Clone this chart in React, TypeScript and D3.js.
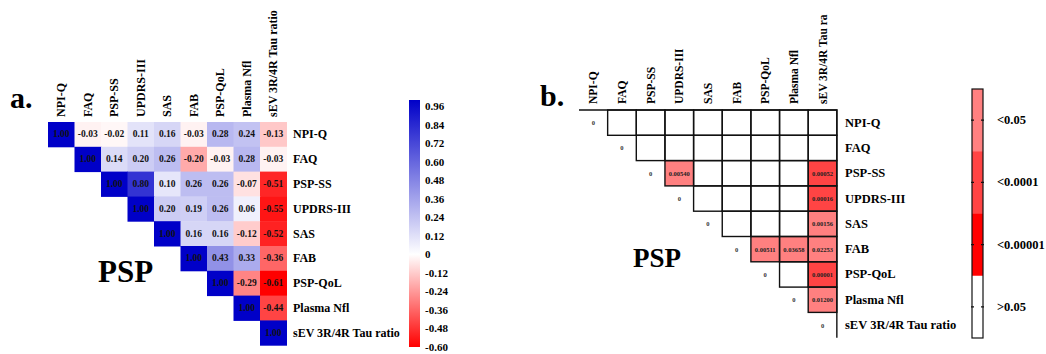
import React, { useEffect, useRef } from 'react'
import * as d3 from 'd3'

// variables (rows / columns of both matrices)
const variables = ['NPI-Q', 'FAQ', 'PSP-SS', 'UPDRS-III', 'SAS', 'FAB', 'PSP-QoL', 'Plasma Nfl', 'sEV 3R/4R Tau ratio']
const colLabelsB = ['NPI-Q', 'FAQ', 'PSP-SS', 'UPDRS-III', 'SAS', 'FAB', 'PSP-QoL', 'Plasma Nfl', 'sEV 3R/4R Tau ra']

// correlation coefficients, upper triangle, each row starts at the diagonal
const corrRows = [
    [1.00, -0.03, -0.02, 0.11, 0.16, -0.03, 0.28, 0.24, -0.13],
    [1.00, 0.14, 0.20, 0.26, -0.20, -0.03, 0.28, -0.03],
    [1.00, 0.80, 0.10, 0.26, 0.26, -0.07, -0.51],
    [1.00, 0.20, 0.19, 0.26, 0.06, -0.55],
    [1.00, 0.16, 0.16, -0.12, -0.52],
    [1.00, 0.43, 0.33, -0.36],
    [1.00, -0.29, -0.61],
    [1.00, -0.44],
    [1.00]
]
const colorTicks = [-0.60, -0.48, -0.36, -0.24, -0.12, 0, 0.12, 0.24, 0.36, 0.48, 0.60, 0.72, 0.84, 0.96]

// significant p values
const pRows = ['PSP-SS', 'PSP-SS', 'UPDRS-III', 'SAS', 'FAB', 'FAB', 'FAB', 'PSP-QoL', 'Plasma Nfl']
const pCols = ['UPDRS-III', 'sEV 3R/4R Tau ratio', 'sEV 3R/4R Tau ratio', 'sEV 3R/4R Tau ratio', 'PSP-QoL', 'Plasma Nfl', 'sEV 3R/4R Tau ratio', 'sEV 3R/4R Tau ratio', 'sEV 3R/4R Tau ratio']
const pValues = ['0.00540', '0.00052', '0.00016', '0.00156', '0.00511', '0.03658', '0.02253', '0.00001', '0.01200']
const pLevels = ['<0.05', '<0.0001', '<0.0001', '<0.05', '<0.05', '<0.05', '<0.05', '<0.0001', '<0.05']
const legendLabels = ['<0.05', '<0.0001', '<0.00001', '>0.05']
const legendColors = ['#ff8080', '#ff4444', '#ff0000', '#ffffff']

const FONT = '"Liberation Serif", "Times New Roman", serif'

const App = () => {
    const ref = useRef<SVGSVGElement>(null)

    useEffect(() => {
        drawChart()
    }, [])

    const drawChart = () => {
        const svg = d3.select(ref.current)
        svg.selectAll('*').remove()
        const n = variables.length

        // ---------- panel a ----------
        const ax = d3.scaleBand().domain(variables).range([48, 48 + 26.5 * n])
        const ay = d3.scaleBand().domain(variables).range([122, 122 + 24.8 * n])
        const color = d3.scaleLinear<string>().domain([-0.6, 0, 1]).range(['#ff0000', '#ffffff', '#0000c8'])

        const cellsA: { r: string; c: string; v: number }[] = []
        corrRows.forEach((row, i) => row.forEach((v, k) => cellsA.push({ r: variables[i], c: variables[i + k], v })))

        const ga = svg.append('g')
        ga.selectAll('rect').data(cellsA).enter().append('rect')
            .attr('x', d => ax(d.c)!)
            .attr('y', d => ay(d.r)!)
            .attr('width', ax.bandwidth() + 0.5)
            .attr('height', ay.bandwidth() + 0.5)
            .attr('fill', d => color(d.v))
        ga.selectAll('text.v').data(cellsA).enter().append('text')
            .attr('class', 'v')
            .attr('x', d => ax(d.c)! + ax.bandwidth() / 2)
            .attr('y', d => ay(d.r)! + ay.bandwidth() / 2)
            .attr('text-anchor', 'middle')
            .attr('dominant-baseline', 'central')
            .attr('font-size', 9.5)
            .attr('font-weight', 'bold')
            .attr('fill', '#111')
            .text(d => d.v.toFixed(2))

        ga.selectAll('text.col').data(variables).enter().append('text')
            .attr('class', 'col')
            .attr('transform', d => `translate(${ax(d)! + ax.bandwidth() / 2 + 4},117) rotate(-90)`)
            .attr('font-size', 12)
            .attr('font-weight', 'bold')
            .text(d => d)
        ga.selectAll('text.row').data(variables).enter().append('text')
            .attr('class', 'row')
            .attr('x', 293)
            .attr('y', d => ay(d)! + ay.bandwidth() / 2)
            .attr('dominant-baseline', 'central')
            .attr('font-size', 12)
            .attr('font-weight', 'bold')
            .text(d => d)

        // colour bar
        const cy = d3.scaleLinear().domain([-0.6, 1]).range([347, 100])
        const grad = svg.append('defs').append('linearGradient')
            .attr('id', 'cbar').attr('x1', 0).attr('x2', 0).attr('y1', 1).attr('y2', 0)
        ;[-0.6, 0, 1].forEach(v => grad.append('stop')
            .attr('offset', (v + 0.6) / 1.6)
            .attr('stop-color', color(v)))
        ga.append('rect')
            .attr('x', 409).attr('y', cy(1)).attr('width', 11).attr('height', cy(-0.6) - cy(1))
            .attr('fill', 'url(#cbar)')
        ga.selectAll('text.tick').data(colorTicks).enter().append('text')
            .attr('class', 'tick')
            .attr('x', 425)
            .attr('y', d => cy(d))
            .attr('dominant-baseline', 'central')
            .attr('font-size', 11)
            .attr('font-weight', 'bold')
            .text(d => (d === 0 ? '0' : d.toFixed(2)))

        ga.append('text').attr('x', 10).attr('y', 108)
            .attr('font-size', 30).attr('font-weight', 'bold').text('a.')
        ga.append('text').attr('x', 98).attr('y', 282)
            .attr('font-size', 31).attr('font-weight', 'bold').text('PSP')

        // ---------- panel b ----------
        const bx = d3.scaleBand().domain(variables).range([579, 579 + 28.65 * n])
        const by = d3.scaleBand().domain(variables).range([110, 110 + 25.3 * n])
        const levelColor = d3.scaleOrdinal<string, string>().domain(legendLabels).range(legendColors)
        const gb = svg.append('g')

        const upper: { r: string; c: string }[] = []
        variables.forEach((r, i) => variables.forEach((c, j) => { if (j > i) upper.push({ r, c }) }))
        const pCells = pValues.map((p, i) => ({ r: pRows[i], c: pCols[i], p, level: pLevels[i] }))

        gb.selectAll('rect.fill').data(pCells).enter().append('rect')
            .attr('class', 'fill')
            .attr('x', d => bx(d.c)!)
            .attr('y', d => by(d.r)!)
            .attr('width', bx.bandwidth())
            .attr('height', by.bandwidth())
            .attr('fill', d => levelColor(d.level))
        gb.selectAll('rect.cell').data(upper).enter().append('rect')
            .attr('class', 'cell')
            .attr('x', d => bx(d.c)!)
            .attr('y', d => by(d.r)!)
            .attr('width', bx.bandwidth())
            .attr('height', by.bandwidth())
            .attr('fill', 'none')
            .attr('stroke', '#111')
            .attr('stroke-width', 1.4)
        gb.append('path')
            .attr('d', `M${bx.range()[0]},${by.range()[0]}H${bx.range()[1]}V${by.range()[1]}`)
            .attr('fill', 'none').attr('stroke', '#111').attr('stroke-width', 1.4)
        gb.selectAll('text.p').data(pCells).enter().append('text')
            .attr('class', 'p')
            .attr('x', d => bx(d.c)! + bx.bandwidth() / 2)
            .attr('y', d => by(d.r)! + by.bandwidth() / 2)
            .attr('text-anchor', 'middle')
            .attr('dominant-baseline', 'central')
            .attr('font-size', 6.5)
            .attr('font-weight', 'bold')
            .attr('fill', '#222')
            .text(d => d.p)
        gb.selectAll('text.zero').data(variables).enter().append('text')
            .attr('class', 'zero')
            .attr('x', d => bx(d)! + bx.bandwidth() / 2)
            .attr('y', d => by(d)! + by.bandwidth() / 2)
            .attr('text-anchor', 'middle')
            .attr('dominant-baseline', 'central')
            .attr('font-size', 6.5)
            .attr('font-weight', 'bold')
            .attr('fill', '#333')
            .text('0')

        gb.selectAll('text.col').data(colLabelsB).enter().append('text')
            .attr('class', 'col')
            .attr('transform', (d, i) => `translate(${bx(variables[i])! + bx.bandwidth() / 2 + 4},104) rotate(-90)`)
            .attr('font-size', 11.5)
            .attr('font-weight', 'bold')
            .text(d => d)
        gb.selectAll('text.row').data(variables).enter().append('text')
            .attr('class', 'row')
            .attr('x', 845)
            .attr('y', d => by(d)! + by.bandwidth() / 2)
            .attr('dominant-baseline', 'central')
            .attr('font-size', 12.5)
            .attr('font-weight', 'bold')
            .text(d => d)

        // legend
        const ly = d3.scaleBand().domain(legendLabels).range([89, 338])
        gb.selectAll('rect.leg').data(legendLabels).enter().append('rect')
            .attr('class', 'leg')
            .attr('x', 972).attr('y', d => ly(d)!)
            .attr('width', 11).attr('height', ly.bandwidth() + 0.3)
            .attr('fill', d => levelColor(d))
        gb.append('rect').attr('x', 972).attr('y', 89).attr('width', 11).attr('height', 249)
            .attr('fill', 'none').attr('stroke', '#111').attr('stroke-width', 1.2)
        legendLabels.forEach(d => {
            const y = ly(d)! + ly.bandwidth() / 2
            gb.append('path').attr('d', `M971,${y}h3M981,${y}h3`).attr('stroke', '#111').attr('stroke-width', 1.2)
            gb.append('text').attr('x', 997).attr('y', y)
                .attr('dominant-baseline', 'central')
                .attr('font-size', 12.5).attr('font-weight', 'bold')
                .text(d)
        })

        gb.append('text').attr('x', 540).attr('y', 106)
            .attr('font-size', 30).attr('font-weight', 'bold').text('b.')
        gb.append('text').attr('x', 633).attr('y', 267)
            .attr('font-size', 27).attr('font-weight', 'bold').text('PSP')
    }

    return (
        <svg ref={ref} width={1046} height={354}
            style={{ position: 'absolute', left: 0, top: 0, background: '#fff', fontFamily: FONT }} />
    )
}

export default App
